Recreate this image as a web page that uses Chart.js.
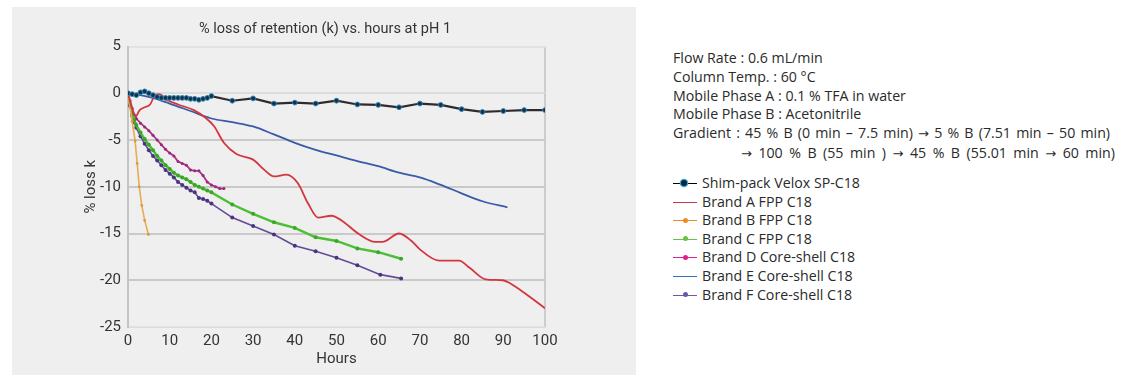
<!DOCTYPE html>
<html>
<head>
<meta charset="utf-8">
<script src="https://cdn.jsdelivr.net/npm/chart.js@4"></script>
<style>
  html, body { margin:0; padding:0; background:#fff; width:1146px; height:383px; overflow:hidden; }
  #panel { position:absolute; left:12px; top:7px; width:624px; height:368px; background:#efefef; }
  #title { position:absolute; left:12px; top:20px; width:626px; text-align:center; font:14.5px Roboto, sans-serif; color:#333; }
  #cond { position:absolute; left:673px; top:49px; font:14.2px "Open Sans", sans-serif; color:#2a2a2a; line-height:18.8px; white-space:pre; }
  #cond .ar { font-family:"DejaVu Sans", sans-serif; font-size:13px; }
  #cond .gr1 { word-spacing:1.5px; }
  #cond .gr2 { word-spacing:2.8px; }
  #legend { position:absolute; left:673px; top:174px; font:14.2px "Open Sans", sans-serif; color:#2a2a2a; }
  .li { position:relative; height:18.6px; line-height:18.6px; white-space:pre; }
  .sym { position:absolute; left:0; top:9px; width:24px; height:0; border-top:1.6px solid #000; }
  .dot { position:absolute; left:8px; top:-4.5px; width:7px; height:7px; border-radius:50%; }
  .txt { position:absolute; left:29px; top:0; }
</style>
</head>
<body>
<div id="panel"><canvas id="c" width="624" height="368"></canvas></div>
<div id="title">% loss of retention (k) vs. hours at pH 1</div>
<div id="cond">Flow Rate : 0.6 mL/min
Column Temp. : 60 °C
Mobile Phase A : 0.1 % TFA in water
Mobile Phase B : Acetonitrile
<span class="gr1">Gradient : 45 % B (0 min – 7.5 min) <span class="ar">→</span> 5 % B (7.51 min – 50 min)</span>
<span style="display:inline-block;width:68px"></span><span class="gr2"><span class="ar">→</span> 100 % B (55 min ) <span class="ar">→</span> 45 % B (55.01 min <span class="ar">→</span> 60 min)</span></div>
<div id="legend"></div>
<script>
// ---- Data (hours, % loss k) ----
const seriesNames = ["Shim-pack Velox SP-C18","Brand A FPP C18","Brand B FPP C18","Brand C FPP C18","Brand D Core-shell C18","Brand E Core-shell C18","Brand F Core-shell C18"];

const shimHours = [0,1,2,3,4,5,6,7,8,9,10,11,12,13,14,15,16,17,18,19,20,25,30,35,40,45,50,55,60,65,70,75,80,85,90,95,100];
const shimLoss  = [0,-0.1,-0.2,0.1,0.2,0.0,-0.2,-0.4,-0.5,-0.5,-0.5,-0.5,-0.5,-0.5,-0.5,-0.6,-0.6,-0.7,-0.6,-0.5,-0.3,-0.8,-0.55,-1.1,-1.0,-1.1,-0.8,-1.2,-1.25,-1.5,-1.1,-1.25,-1.7,-2.0,-1.9,-1.8,-1.8];

const aHours = [0,0.8,1.8,2.8,4,5.3,6.5,7.5,9.3,12,15.8,18.5,20.6,23,26,30,32.7,35,38,40.7,43.2,45.6,48.8,51.2,55.2,59.3,61,65,68,70,74.6,79.4,82,85.8,89.9,91.5,95.5,100];
const aLoss  = [0,-1.4,-2.5,-1.8,-1.5,-1.2,-0.2,-0.1,-0.7,-1.2,-1.8,-2.6,-3.5,-5.3,-6.5,-7.1,-8.2,-8.9,-8.7,-9.6,-11.8,-13.3,-13.1,-13.6,-15.0,-15.9,-15.9,-15.0,-15.8,-16.7,-17.9,-17.9,-18.7,-19.9,-20.0,-20.3,-21.5,-23.0];

const bHours = [0,0.5,1,1.7,2.2,2.7,3.3,4,4.9];
const bLoss  = [0,-1.5,-3,-5.1,-7.5,-10,-12,-13.6,-15.1];

const cHours = [0,0.5,1,1.5,2,3,4,5,6,7,8,9,10,11,12,13,14,15,16,17,18,19,20,25,30,35,40,45,50,55,60,65.5];
const cLoss  = [0,-1.2,-2.2,-2.9,-3.4,-4.2,-4.9,-5.5,-6.1,-6.7,-7.2,-7.7,-8.1,-8.5,-8.8,-9.0,-9.2,-9.5,-9.8,-10.0,-10.2,-10.4,-10.6,-11.9,-12.9,-13.8,-14.4,-15.4,-15.8,-16.6,-17.0,-17.7];

const dHours = [0,0.5,1,1.5,2,3,4,5,6,7,8,9,10,11,12,13,14,15,16,17,18,19,20,21,22,23];
const dLoss  = [0,-0.8,-1.6,-2.3,-2.7,-3.2,-3.6,-4.0,-4.5,-5.0,-5.5,-6.0,-6.4,-6.7,-7.3,-7.5,-7.7,-8.2,-8.3,-8.3,-8.8,-9.5,-9.8,-10.0,-10.2,-10.2];

const eHours = [0,3,6,8,10,15,20,25,30,35,40,45,50,55,60,65,70,75,80,85,91];
const eLoss  = [0,-0.2,-0.5,-0.8,-1.1,-1.9,-2.7,-3.1,-3.55,-4.4,-5.3,-6.05,-6.65,-7.25,-7.8,-8.5,-9.0,-9.8,-10.7,-11.55,-12.2];

const fHours = [0,0.5,1,1.5,2,3,4,5,6,7,8,9,10,11,12,13,14,15,16,17,18,19,20,25,30,35,40,45,50,55,60.5,65.5];
const fLoss  = [0,-1.3,-2.4,-3.1,-3.7,-4.6,-5.4,-6.1,-6.7,-7.2,-7.7,-8.2,-8.6,-9.0,-9.5,-9.8,-10.1,-10.4,-10.6,-11.2,-11.3,-11.5,-11.8,-13.3,-14.2,-15.1,-16.3,-16.9,-17.6,-18.4,-19.4,-19.8];

const xTicks = [0,10,20,30,40,50,60,70,80,90,100];
const yTicks = [5,0,-5,-10,-15,-20,-25];

const pts = (xs, ys) => xs.map((x, i) => ({x, y: ys[i]}));

const styles = [
  {line:'#2e2a2e', fill:'#12304f', border:'#2f86b0', r:2.4, w:2.2, smooth:false},
  {line:'#d3363e', r:0, w:1.8, smooth:true},
  {line:'#e6ad55', fill:'#d99a3a', r:1.4, w:1.6, smooth:false},
  {line:'#4cbf34', fill:'#3aa628', r:2, w:2.4, smooth:false},
  {line:'#b0308a', fill:'#9a2a78', r:1.5, w:1.8, smooth:false},
  {line:'#3a5aa8', r:0, w:1.8, smooth:true},
  {line:'#654a9a', fill:'#4a3480', r:2, w:1.6, smooth:false}
];
const legendColors = ['#000','#c8384a','#f08a24','#6cc043','#e0208a','#3070b8','#6a5aa8'];
const legendDots = [ {fill:'#0a2540', border:'#38a8c8'}, null, {fill:'#f08a24'}, {fill:'#6cc043'}, {fill:'#e0208a'}, null, {fill:'#6a5aa8'} ];

const dataSets = [pts(shimHours,shimLoss), pts(aHours,aLoss), pts(bHours,bLoss), pts(cHours,cLoss), pts(dHours,dLoss), pts(eHours,eLoss), pts(fHours,fLoss)];

const datasets = dataSets.map((d, i) => {
  const s = styles[i];
  return {
    label: seriesNames[i], data: d,
    borderColor: s.line, borderWidth: s.w,
    pointRadius: s.r, pointBackgroundColor: s.fill || s.line,
    pointBorderColor: s.border || s.fill || s.line, pointBorderWidth: s.border ? 1 : 0,
    cubicInterpolationMode: s.smooth ? 'monotone' : 'default', tension: 0,
    fill: false, order: i === 0 ? -1 : i
  };
});

new Chart(document.getElementById('c'), {
  type: 'line',
  data: { datasets },
  options: {
    responsive: false, animation: false, devicePixelRatio: 1,
    layout: { padding: { top: 39.5, right: 91, bottom: 0, left: 0 } },
    plugins: { legend: { display: false }, tooltip: { enabled: false }, title: { display: false } },
    scales: {
      x: {
        type: 'linear', min: 0, max: 100,
        afterFit: s => { s.height = 48; },
        afterBuildTicks: s => { s.ticks = xTicks.map(v => ({value: v})); },
        ticks: { padding: 5, font: { family: 'Roboto', size: 15 }, color: '#333', maxRotation: 0 },
        grid: { drawTicks: false, color: c => c.tick && c.tick.value === 100 ? '#cdcdcd' : 'rgba(0,0,0,0)', lineWidth: 2 },
        border: { display: true, color: '#dddddd', width: 1 },
        title: { display: true, text: 'Hours', font: { family: 'Roboto', size: 15 }, color: '#333', padding: { top: 0, bottom: 7 } }
      },
      y: {
        type: 'linear', min: -25, max: 5,
        afterFit: s => { s.width = 116; },
        afterBuildTicks: s => { s.ticks = yTicks.map(v => ({value: v})); },
        ticks: { padding: 7, font: { family: 'Roboto', size: 15 }, color: '#333' },
        grid: { drawTicks: false, color: c => (c.tick.value === 5 || c.tick.value === -25) ? '#e2e2e2' : (c.tick.value === 0 ? '#dcdcdc' : '#c9c9c9'), lineWidth: 2 },
        border: { display: true, color: '#c4c4c4', width: 2 },
        title: { display: true, text: '% loss k', font: { family: 'Roboto', size: 15 }, color: '#333', padding: { top: 70, bottom: 0 } }
      }
    }
  }
});

// HTML legend
const lg = document.getElementById('legend');
seriesNames.forEach((n, i) => {
  const row = document.createElement('div'); row.className = 'li';
  const sym = document.createElement('div'); sym.className = 'sym'; sym.style.borderTopColor = legendColors[i];
  if (legendDots[i]) {
    const dt = document.createElement('div'); dt.className = 'dot';
    dt.style.background = legendDots[i].fill;
    if (legendDots[i].border) { dt.style.boxShadow = '0 0 0 1.3px ' + legendDots[i].border; dt.style.width='6px'; dt.style.height='6px'; dt.style.top='-3.8px'; }
    else { dt.style.width='5px'; dt.style.height='5px'; dt.style.top='-3.3px'; dt.style.left='9.5px'; }
    sym.appendChild(dt);
  }
  const t = document.createElement('div'); t.className = 'txt'; t.textContent = n;
  row.appendChild(sym); row.appendChild(t); lg.appendChild(row);
});
</script>
</body>
</html>
